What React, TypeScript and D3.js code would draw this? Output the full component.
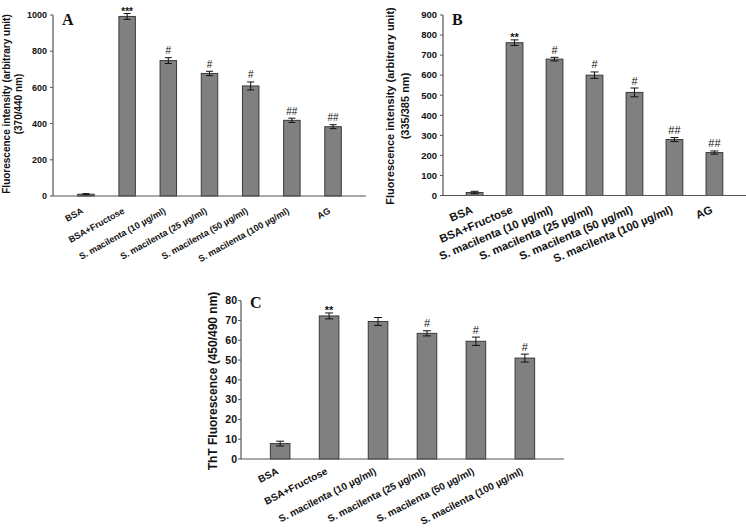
import React from "react";
import * as d3 from "d3";

const categoriesAB = [
  "BSA",
  "BSA+Fructose",
  "S. macilenta (10 µg/ml)",
  "S. macilenta (25 µg/ml)",
  "S. macilenta (50 µg/ml)",
  "S. macilenta (100 µg/ml)",
  "AG",
];
const categoriesC = categoriesAB.slice(0, 6);

const valuesA = [10, 992, 748, 677, 608, 418, 383];
const errorsA = [3, 16, 16, 12, 22, 12, 11];
const sigA = ["", "***", "#", "#", "#", "##", "##"];
const ticksA = [0, 200, 400, 600, 800, 1000];

const valuesB = [15, 762, 680, 600, 514, 279, 214];
const errorsB = [6, 14, 9, 16, 22, 10, 8];
const sigB = ["", "**", "#", "#", "#", "##", "##"];
const ticksB = [0, 100, 200, 300, 400, 500, 600, 700, 800, 900];

const valuesC = [7.8, 72.3, 69.5, 63.5, 59.5, 51];
const errorsC = [1.2, 1.5, 2, 1.3, 2.1, 2];
const sigC = ["", "**", "", "#", "#", "#"];
const ticksC = [0, 10, 20, 30, 40, 50, 60, 70, 80];

const SANS = "'Liberation Sans', Arial, sans-serif";
const SERIF = "'Liberation Serif', 'Times New Roman', serif";

type PanelCfg = {
  cats: string[];
  values: number[];
  errors: number[];
  sig: string[];
  ticks: number[];
  x0: number;
  x1: number;
  yBase: number;
  yTop: number;
  yMax: number;
  padding: number;
  tickFont: number;
  tickLen: number;
  tickGap: number;
  xFont: number;
  xAngle: number;
  xDx: number;
  xDy: number;
  labelLines: { text: string; x: number }[];
  labelY: number;
  labelFont: number;
  letter: string;
  letterX: number;
  letterY: number;
  letterFont: number;
  sigFont: number;
  capW: number;
};

function Panel({ c }: { c: PanelCfg }) {
  const x = d3.scaleBand<string>().domain(c.cats).range([c.x0, c.x1]).padding(c.padding);
  const y = d3.scaleLinear().domain([0, c.yMax]).range([c.yBase, c.yTop]);
  const bw = x.bandwidth();
  return (
    <g>
      {c.cats.map((cat, i) => {
        const bx = x(cat)!;
        const cx = bx + bw / 2;
        const top = y(c.values[i]);
        const eTop = y(c.values[i] + c.errors[i]);
        const eBot = y(c.values[i] - c.errors[i]);
        const s = c.sig[i];
        const isStar = s.includes("*");
        return (
          <g key={cat}>
            <rect x={bx} y={top} width={bw} height={c.yBase - top} fill="#808080" stroke="#3a3a3a" strokeWidth={1} />
            <line x1={cx} x2={cx} y1={eTop} y2={eBot} stroke="#111" strokeWidth={1} />
            <line x1={cx - c.capW} x2={cx + c.capW} y1={eTop} y2={eTop} stroke="#111" strokeWidth={1} />
            <line x1={cx - c.capW} x2={cx + c.capW} y1={eBot} y2={eBot} stroke="#111" strokeWidth={1} />
            {s && (
              <text
                x={cx}
                y={isStar ? eTop + 1 : eTop - 3.5}
                textAnchor="middle"
                fontFamily={SANS}
                fontWeight={isStar ? "bold" : "normal"}
                fontSize={c.sigFont}
                fill="#111"
              >
                {s}
              </text>
            )}
            <text
              transform={`translate(${cx + c.xDx},${c.yBase + c.xDy}) rotate(${c.xAngle})`}
              textAnchor="end"
              fontFamily={SANS}
              fontWeight="bold"
              fontSize={c.xFont}
              fill="#111"
            >
              {cat}
            </text>
          </g>
        );
      })}
      <line x1={c.x0} x2={c.x1} y1={c.yBase} y2={c.yBase} stroke="#555" strokeWidth={1.2} />
      <line x1={c.x0} x2={c.x0} y1={c.yBase} y2={y(c.yMax)} stroke="#555" strokeWidth={1.2} />
      {c.ticks.map((t) => (
        <g key={t}>
          <line x1={c.x0 - c.tickLen} x2={c.x0} y1={y(t)} y2={y(t)} stroke="#555" strokeWidth={1} />
          <text
            x={c.x0 - c.tickGap}
            y={y(t)}
            dy="0.35em"
            textAnchor="end"
            fontFamily={SANS}
            fontWeight="bold"
            fontSize={c.tickFont}
            fill="#111"
          >
            {t}
          </text>
        </g>
      ))}
      {c.labelLines.map((l) => (
        <text
          key={l.text}
          transform={`translate(${l.x},${c.labelY}) rotate(-90)`}
          textAnchor="middle"
          fontFamily={SANS}
          fontWeight="bold"
          fontSize={c.labelFont}
          fill="#111"
        >
          {l.text}
        </text>
      ))}
      <text x={c.letterX} y={c.letterY} fontFamily={SERIF} fontWeight="bold" fontSize={c.letterFont} fill="#111">
        {c.letter}
      </text>
    </g>
  );
}

const panelA: PanelCfg = {
  cats: categoriesAB,
  values: valuesA,
  errors: errorsA,
  sig: sigA,
  ticks: ticksA,
  x0: 53,
  x1: 366,
  yBase: 196,
  yTop: 15,
  yMax: 1000,
  padding: 0.6,
  tickFont: 9,
  tickLen: 3,
  tickGap: 6,
  xFont: 9,
  xAngle: -29,
  xDx: -2,
  xDy: 16.7,
  labelLines: [
    { text: "Fluorescence intensity (arbitrary unit)", x: 10 },
    { text: "(370/440 nm)", x: 22 },
  ],
  labelY: 104,
  labelFont: 10,
  letter: "A",
  letterX: 62,
  letterY: 25,
  letterFont: 16,
  sigFont: 10,
  capW: 3.5,
};

const panelB: PanelCfg = {
  cats: categoriesAB,
  values: valuesB,
  errors: errorsB,
  sig: sigB,
  ticks: ticksB,
  x0: 443,
  x1: 746,
  yBase: 195.5,
  yTop: 15,
  yMax: 900,
  padding: 0.58,
  tickFont: 9.5,
  tickLen: 3,
  tickGap: 6,
  xFont: 11.3,
  xAngle: -23,
  xDx: -1,
  xDy: 17,
  labelLines: [
    { text: "Fluorescence intensity (arbitrary unit)", x: 394 },
    { text: "(335/385 nm)", x: 409 },
  ],
  labelY: 106,
  labelFont: 11,
  letter: "B",
  letterX: 452,
  letterY: 25,
  letterFont: 16,
  sigFont: 11,
  capW: 4,
};

const panelC: PanelCfg = {
  cats: categoriesC,
  values: valuesC,
  errors: errorsC,
  sig: sigC,
  ticks: ticksC,
  x0: 241,
  x1: 564,
  yBase: 459,
  yTop: 300.7,
  yMax: 80,
  padding: 0.6,
  tickFont: 10.5,
  tickLen: 3,
  tickGap: 4,
  xFont: 10,
  xAngle: -27,
  xDx: -1,
  xDy: 14.5,
  labelLines: [{ text: "ThT Fluorescence (450/490 nm)", x: 217 }],
  labelY: 381,
  labelFont: 12,
  letter: "C",
  letterX: 250,
  letterY: 308,
  letterFont: 16,
  sigFont: 11,
  capW: 4,
};

export default function App() {
  return (
    <svg
      width={746}
      height={532}
      viewBox="0 0 746 532"
      style={{ position: "absolute", left: 0, top: 0, background: "#fff" }}
    >
      <rect width={746} height={532} fill="#fff" />
      <Panel c={panelA} />
      <Panel c={panelB} />
      <Panel c={panelC} />
    </svg>
  );
}
